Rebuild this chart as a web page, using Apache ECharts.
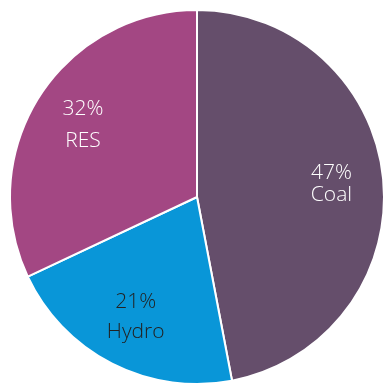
<!DOCTYPE html>
<html><head><meta charset="utf-8">
<script src="https://cdn.jsdelivr.net/npm/echarts@6/dist/echarts.min.js"></script>
<style>html,body{margin:0;padding:0;background:#fff}#c{width:387px;height:385px}</style>
</head><body><div id="c"></div>
<script>
const categories = ['Coal', 'Hydro', 'RES'];
const values = [47, 21, 32];
const colors = ['#654E6B', '#0996D8', '#A34783'];
const labelColors = ['#ffffff', '#222222', '#ffffff'];
const lineHeights = [22, 30, 32];

const chart = echarts.init(document.getElementById('c'));
const base = categories.map((n, i) => ({ name: n, value: values[i] }));
chart.setOption({
  animation: false,
  series: [
    {
      type: 'pie', center: [197, 197], radius: [0, 187], startAngle: 90, clockwise: true,
      silent: true, label: { show: false }, labelLine: { show: false },
      itemStyle: { borderColor: '#ffffff', borderWidth: 2 },
      data: base.map((d, i) => ({ ...d, itemStyle: { color: colors[i] } }))
    },
    {
      type: 'pie', center: [197, 197], radius: [78, 186], startAngle: 90, clockwise: true,
      silent: true, labelLine: { show: false },
      itemStyle: { color: 'rgba(0,0,0,0)' },
      label: { show: true, position: 'inside', formatter: p => p.value + '%\n' + p.name,
        fontFamily: 'Open Sans', fontSize: 21, fontWeight: 300 },
      data: base.map((d, i) => ({ ...d, label: { color: labelColors[i], lineHeight: lineHeights[i] } }))
    }
  ]
});
</script></body></html>
